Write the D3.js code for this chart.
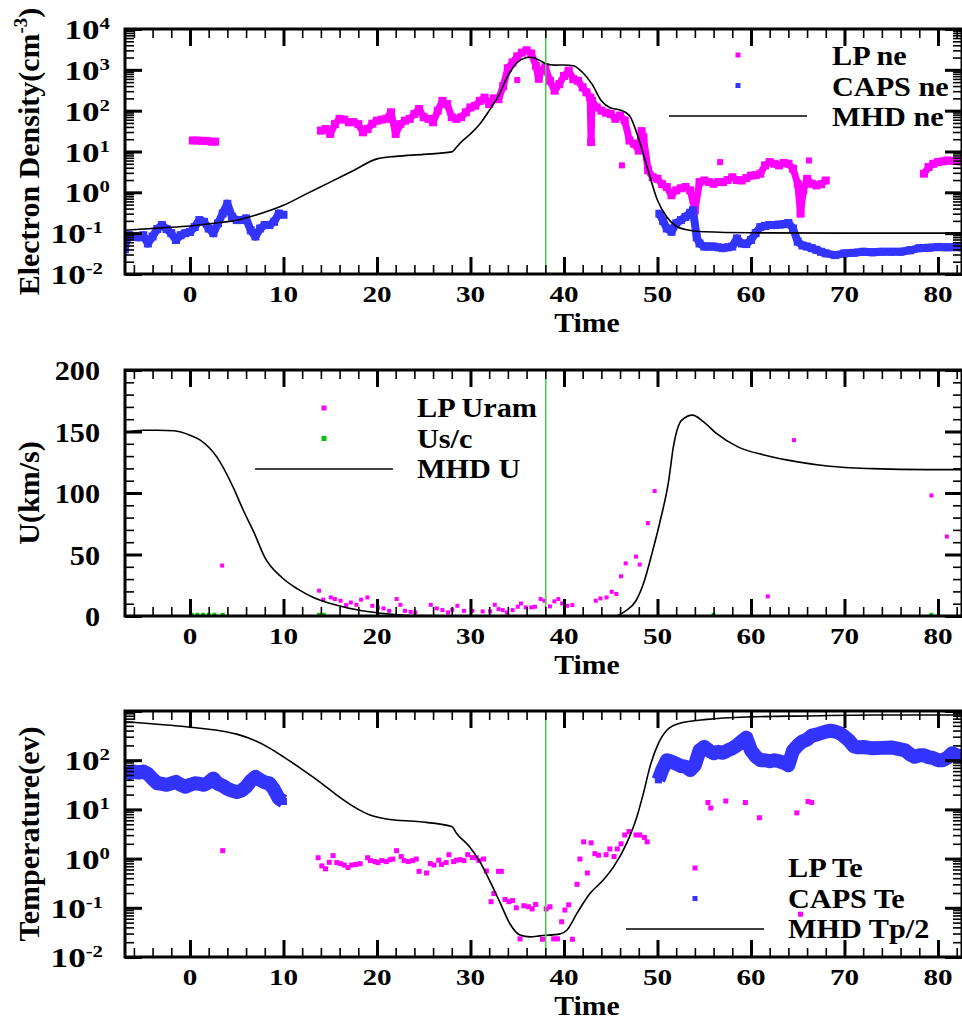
<!DOCTYPE html>
<html>
<head>
<meta charset="utf-8">
<script src="https://cdn.jsdelivr.net/npm/d3@7"></script>
<style>
  body { margin: 0; background: #fff; }
  text { font-family: "Liberation Serif", "Times New Roman", serif; font-weight: bold; fill: #000; }
</style>
</head>
<body>
<script>
// ---- data: [time, value] ----
const timeTicks = [0, 10, 20, 30, 40, 50, 60, 70, 80];
const neTickExp = [-2, -1, 0, 1, 2, 3, 4];
const uTicks = [0, 50, 100, 150, 200];
const teTickExp = [-2, -1, 0, 1, 2];
const shockTime = 38.05;

// top panel: electron density
const lpNe1 = [[0.3,18.6],[0.8,18.6],[1.3,18.2],[1.8,18.2],[2.3,17.4],[2.7,17.4]];
const lpNe2 = [[14,32.4],[14.5,35.5],[15,26.9],[15.5,46.8],[16,63.1],[16.5,60.3],[17,51.9],[17.5,52.5],[18,46.8],[18.5,29.5],
  [19,35.5],[19.5,47.9],[20,57],[20.5,60.3],[21,63.1],[21.5,91.2],[22,26.9],[22.5,46.8],[23,57],[23.5,63],[24,83.2],[24.5,110],
  [25,69.2],[25.5,63],[26,52],[26.5,100],[27,174],[27.5,145],[28,69],[28.5,63],[29,69],[29.5,91],[30,120],[30.5,132],[31,174],
  [31.5,209],[32,145],[32.5,200],[33,191],[33.5,398],[34,1096],[34.5,1514],[35,2138],[35.5,2630],[36,3020],[36.5,2512],[37,1259],
  [37.3,603],[37.6,1000],[38,1148],[38.5,537],[39,309],[39.5,447],[40,708],[40.5,955],[41,589],[41.5,537],[42,372],[42.4,282],
  [42.8,209],[42.9,17],[43,174],[43.5,120],[44,100],[44.5,89],[45,83],[45.5,63],[46,76],[46.5,57],[47,18.6],[47.5,15.5],[48,10.5],
  [48.3,31.6],[48.5,22.4],[49,3.47],[49.5,2.34],[50,2.14],[50.5,1.58],[51,1.35],[51.5,0.85],[52,1.12],[52.5,1.26],[53,1.35],
  [53.5,1.12],[54,0.363],[54.5,1.78],[55,1.95],[55.5,1.78],[56,1.62],[56.5,1.78],[57,1.78],[57.5,2.0],[58,2.34],[58.5,2.0],
  [59,1.95],[59.5,2.24],[60,2.57],[60.5,2.63],[61,2.86],[61.5,4.57],[62,5.5],[62.5,5.0],[63,4.57],[63.5,5.25],[64,5.0],[64.5,3.78],
  [65,1.62],[65.3,0.30],[65.6,1.12],[66,2.14],[66.5,1.62],[67,1.48],[67.5,1.58],[68,1.95]];
const lpNe3 = [[78.5,2.86],[79,4.17],[79.5,5.0],[80,5.5],[80.5,5.75],[81,6.03],[81.5,5.9],[82,5.9],[82.5,5.75]];
const lpNeDots = [[35,562],[46.2,4.57],[56.7,5.5],[66.2,6.03]];

const capsNe1 = [[-6.95,0.04],[-6.8,0.07],[-6.5,0.089],[-6,0.083],[-5.5,0.079],[-5,0.089],[-4.5,0.056],[-4,0.083],[-3.5,0.126],
  [-3,0.158],[-2.5,0.126],[-2,0.1],[-1.5,0.068],[-1,0.089],[-0.5,0.1],[0,0.107],[0.5,0.141],[1,0.209],[1.5,0.19],[2,0.13],
  [2.5,0.1],[3,0.174],[3.5,0.302],[4,0.525],[4.5,0.251],[5,0.209],[5.5,0.209],[6,0.229],[6.5,0.117],[7,0.083],[7.5,0.13],
  [8,0.158],[8.5,0.158],[9,0.19],[9.5,0.302],[10,0.282]];
const capsNe2 = [[50.2,0.3],[50.6,0.2],[51,0.13],[51.5,0.108],[52,0.174],[52.5,0.209],[53,0.251],[53.5,0.316],[53.8,0.363],[54.2,0.079],
  [54.5,0.056],[55,0.047],[55.5,0.047],[56,0.047],[56.5,0.045],[57,0.043],[57.5,0.045],[58,0.047],[58.5,0.074],[59,0.056],
  [59.5,0.054],[60,0.068],[60.5,0.1],[61,0.141],[61.5,0.151],[62,0.158],[62.5,0.158],[63,0.162],[63.5,0.166],[64,0.178],
  [64.5,0.13],[65,0.062],[65.5,0.05],[66,0.047],[66.5,0.043],[67,0.039],[67.5,0.035],[68,0.032],[69,0.029],[70,0.032],
  [71,0.033],[72,0.035],[73,0.034],[74,0.035],[75,0.035],[76,0.035],[77,0.038],[78,0.043],[79,0.044],[80,0.046],[81,0.045],
  [82,0.046],[82.6,0.045]];

const mhdNe = [[-6.95,0.118],[-3,0.135],[0,0.15],[3,0.18],[5,0.207],[7,0.275],[10,0.48],[12.5,0.93],[15,1.78],[17.5,3.44],
  [20,6.6],[22,7.6],[25,8.5],[28,9.8],[28.5,12.7],[29,17],[30,27],[31,47],[32,100],[33,232],[34,708],[35,1514],[36,1995],
  [36.4,2040],[37.5,1660],[38,1426],[39,1303],[40,1318],[41,1259],[42,859],[43,447],[44,174],[45,116],[46,104],[47,76],[48,20],
  [49,3.44],[50,0.64],[51,0.25],[52,0.148],[53,0.123],[55,0.108],[60,0.102],[70,0.1],[82.6,0.1]];

// middle panel: velocity
const lpU = [[3.44,41],[13.8,20.6],[14.25,13.3],[15.06,15.1],[15.5,13.8],[16.1,12.4],[16.7,8.9],[17.2,11],[17.8,9.1],[18.3,13.3],
  [18.97,15.1],[19.5,8.3],[20.1,7],[20.7,6.2],[21.3,4.2],[22.1,13.8],[22.5,9.1],[23,4.2],[23.6,3.4],[24.1,2.9],[25.75,9.1],
  [26.4,6.2],[27,4.8],[27.6,2.9],[28.05,5],[28.6,8.3],[29.3,4.2],[30.2,4.2],[31.3,3.7],[32.1,3.7],[32.6,9.1],[33,5.6],[33.45,4.8],
  [33.9,2.9],[34.5,4.8],[35.06,7.5],[35.4,10.2],[35.9,7],[36.5,7],[36.9,7.5],[37.5,13.8],[37.9,12.4],[38.5,7.8],[38.97,11.9],
  [39.4,13.8],[39.8,10.2],[40.35,8.3],[40.9,8.9],[43.4,12.4],[43.9,14.3],[44.55,15.1],[45.1,19.7],[45.6,17.9],[46.1,32.3],
  [46.6,42.8],[47.7,48.3],[48.1,41.8],[48.98,75.5],[49.7,101.6],[61.8,15.9],[64.6,143],[79.3,98],[80.95,64.6]];
const usc = [[0.2,1],[0.8,1],[1.4,1],[2.0,1],[2.6,1],[3.5,1],[13.8,1],[14.3,1],[56,1],[79.3,1]];
const mhdU = [[-6.95,149],[-5,151],[-3.5,151],[-1.7,150.6],[0,147],[1.1,143],[2.9,129],[4.6,105],[5.7,86],[6.9,67],[8,47.7],
  [9.8,31.5],[11.5,22],[13.2,15],[15.5,9.1],[18.4,4.2],[21.3,1.6],[24,0.3],[30,0],[45.4,0],[46.6,4.2],[47.7,12.4],[48.6,28.7],
  [49.4,50.5],[50.3,77.6],[51.2,110],[51.7,137.5],[52.6,159.3],[53.75,163.3],[54.9,158],[56.3,148.4],[58.6,137.5],[61.5,130.7],
  [65,125.3],[68.4,121.7],[73,119.8],[78.8,119],[82.6,119]];

// bottom panel: temperature
const lpTe = [[3.5,1.45],[13.7,1.04],[14.1,0.71],[14.5,0.62],[14.9,0.84],[15.3,1.15],[15.7,0.83],[16.1,0.79],[16.5,0.74],[16.9,0.66],
  [17.3,0.74],[17.75,0.76],[18.2,0.79],[19,1.04],[19.3,0.91],[19.8,0.87],[20.1,0.83],[20.5,0.91],[21,0.87],[21.4,0.95],[21.7,0.98],
  [22.1,1.45],[22.6,1.10],[22.9,0.91],[23.35,0.87],[23.8,0.91],[24.2,0.98],[24.5,0.55],[25.3,0.51],[25.7,0.79],[26.1,0.74],
  [26.6,0.93],[26.9,0.76],[27.4,0.83],[27.7,1.20],[28.2,0.87],[28.5,0.93],[28.9,0.95],[29.3,0.91],[29.7,1.20],[30.2,1.05],
  [30.6,1.04],[30.9,0.91],[31.4,0.98],[31.7,0.56],[32.2,0.133],[32.5,0.195],[33,0.55],[33.3,0.55],[33.7,0.148],[34.1,0.133],
  [34.5,0.141],[34.9,0.1],[35.3,0.0234],[35.7,0.11],[36.2,0.105],[36.6,0.095],[36.97,0.117],[37.7,0.0229],[38.1,0.095],
  [38.5,0.105],[38.9,0.0234],[39.3,0.0234],[39.75,0.052],[40.1,0.09],[40.5,0.115],[40.9,0.0229],[41.4,0.30],[41.7,0.98],
  [42.1,2.19],[42.5,0.51],[42.9,2.09],[43.3,1.26],[43.7,1.17],[44.5,1.20],[44.9,1.57],[45.35,1.10],[45.7,1.57],[46.1,2.0],
  [46.5,3.02],[46.95,3.55],[47.7,3.02],[48.1,3.02],[48.6,2.69],[48.9,2.19],[55.4,13.8],[55.7,10.7],[57.3,14.8],[59.4,13.8],
  [60.9,6.76],[64.9,8.5],[65.3,0.074],[66.1,14.5],[66.5,13.8]];
const capsTe1 = [[-6.95,50],[-6.5,55],[-6,59],[-5.5,56],[-5,59],[-4.5,52.5],[-4,41.7],[-3.5,33.9],[-3,33.1],[-2.5,31.6],[-2,33.9],
  [-1.5,36.3],[-1,31.6],[-0.5,28.8],[0,31.6],[0.5,33.9],[1,33.1],[1.5,31.6],[2,35.5],[2.5,42.7],[3,33.1],[3.5,30.2],[4,26.3],
  [4.5,24],[5,22.4],[5.5,24],[6,28.8],[6.5,38],[7,45.7],[7.5,39.8],[8,35.5],[8.5,33.9],[9,25.1],[9.5,16.6],[10,14.5]];
const capsTe2 = [[50.1,39.8],[50.5,63],[51,100],[51.5,93],[52,85],[52.5,76],[53,74],[53.5,63],[54,79],[54.5,158],[55,186],
  [55.5,158],[56,138],[56.5,148],[57,141],[57.5,158],[58,174],[58.5,200],[59,240],[59.5,288],[60,158],[60.5,120],[61,100],
  [61.5,100],[62,95],[62.5,100],[63,95],[63.5,89],[64,79],[64.5,158],[65,200],[65.5,240],[66,263],[66.5,316],[67,331],
  [67.5,355],[68,380],[68.5,398],[69,380],[69.5,355],[70,302],[70.5,251],[71,191],[71.5,182],[72,186],[73,174],[74,178],
  [75,182],[76,166],[76.5,158],[77,132],[77.5,117],[78,126],[78.5,126],[79,115],[79.5,110],[80,100],[80.5,100],[81,112],
  [81.5,138],[82,126],[82.6,120]];
const mhdTe = [[-6.95,603],[0,468],[3.2,398],[5,339],[6.8,257],[8.56,174],[10,117],[12.1,63],[13.9,36],[15.7,19.5],[17.5,11.4],
  [19.25,7.7],[21,6.4],[24.6,5.6],[28,4.5],[28.5,3.27],[29.9,1.74],[31,0.865],[32.1,0.34],[33.2,0.123],[34.2,0.048],[35.3,0.028],
  [36.4,0.0257],[37.4,0.0269],[39.6,0.0295],[40.3,0.035],[41.4,0.078],[42.8,0.197],[44.2,0.367],[45.3,0.68],[46.7,2.04],
  [47.8,7.1],[48.5,21.4],[49.2,74],[50.1,219],[51,407],[52.4,562],[55.3,676],[59.9,759],[66,794],[73,832],[82.6,832]];

// ---- layout ----
const W = 962, H = 1021;
const left = 125, right = 962;
const magenta = '#ff00ff', blue = '#3434ff', green = '#00c800';

const x = d3.scaleLinear().domain([-6.95, 82.57]).range([left, right]);

const svg = d3.select('body').append('svg')
    .attr('width', W)
    .attr('height', H);

const panels = [
  { top: 29, bottom: 274, log: true, domain: [1e-2, 1e4] },
  { top: 370, bottom: 616, log: false, domain: [0, 200] },
  { top: 711, bottom: 957, log: true, domain: [1e-2, 1e3] }
];
panels.forEach((p, i) => {
  p.y = (p.log ? d3.scaleLog() : d3.scaleLinear()).domain(p.domain).range([p.bottom, p.top]);
  p.g = svg.append('g');
  svg.append('clipPath').attr('id', 'clip' + i)
    .append('rect').attr('x', left).attr('y', p.top).attr('width', right - left).attr('height', p.bottom - p.top);
  p.data = p.g.append('g').attr('clip-path', `url(#clip${i})`);
});

const line = p => d3.line().x(d => x(d[0])).y(d => p.y(d[1]));
const smooth = p => d3.line().curve(d3.curveMonotoneX).x(d => x(d[0])).y(d => p.y(d[1]));

function band(p, pts, color, w) {
  p.data.append('path').datum(pts)
    .attr('d', line(p))
    .attr('fill', 'none')
    .attr('stroke', color)
    .attr('stroke-width', w)
    .attr('stroke-linejoin', 'round');
}
function squares(p, pts, color, s) {
  p.data.append('g').selectAll('rect').data(pts).join('rect')
    .attr('x', d => x(d[0]) - s / 2)
    .attr('y', d => p.y(d[1]) - s / 2)
    .attr('width', s).attr('height', s)
    .attr('fill', color);
}
function model(p, pts) {
  p.data.append('path').datum(pts)
    .attr('d', smooth(p))
    .attr('fill', 'none')
    .attr('stroke', '#000')
    .attr('stroke-width', 1.6);
}

// top panel
const pN = panels[0];
[lpNe1, lpNe2, lpNe3].forEach(s => { band(pN, s, magenta, 7); squares(pN, s, magenta, 8); });
squares(pN, lpNeDots, magenta, 6);
[capsNe1, capsNe2].forEach(s => { band(pN, s, blue, 8); squares(pN, s, blue, 8); });
model(pN, mhdNe);

// middle panel
const pU = panels[1];
squares(pU, usc, green, 4);
squares(pU, lpU, magenta, 4);
model(pU, mhdU);

// bottom panel
const pT = panels[2];
[capsTe1, capsTe2].forEach(s => band(pT, s, blue, 14));
[capsTe1, capsTe2].forEach(s => squares(pT, s, blue, 7));
squares(pT, lpTe, magenta, 5);
model(pT, mhdTe);

// shock crossing
panels.forEach(p => {
  p.g.append('line')
    .attr('x1', x(shockTime)).attr('x2', x(shockTime))
    .attr('y1', p.top).attr('y2', p.bottom)
    .attr('stroke', '#3fcf3f').attr('stroke-width', 1.5);
});

// ticks and frames
const isDecade = v => Math.abs(Math.log10(v) - Math.round(Math.log10(v))) < 1e-6;
const xMinor = d3.range(-6, 83, 2).filter(v => v % 10 !== 0);

function tickAxis(p, axis, scale, values, size, width, tx, ty) {
  const a = p.g.append('g')
    .attr('transform', `translate(${tx},${ty})`)
    .call(axis(scale).tickValues(values).tickSize(-size).tickSizeOuter(0).tickFormat(''));
  a.select('.domain').remove();
  a.selectAll('line').attr('stroke', '#000').attr('stroke-width', width);
}

panels.forEach(p => {
  tickAxis(p, d3.axisBottom, x, xMinor, 9, 1.6, 0, p.bottom);
  tickAxis(p, d3.axisBottom, x, timeTicks, 17, 3, 0, p.bottom);
  tickAxis(p, d3.axisTop, x, xMinor, 9, 1.6, 0, p.top);
  tickAxis(p, d3.axisTop, x, timeTicks, 17, 3, 0, p.top);

  let yMajor, yMinor;
  if (p.log) {
    const all = p.y.ticks();
    yMajor = all.filter(isDecade);
    yMinor = all.filter(v => !isDecade(v));
  } else {
    yMajor = uTicks;
    yMinor = d3.range(10, 200, 10).filter(v => v % 50 !== 0);
  }
  [[d3.axisLeft, left], [d3.axisRight, right]].forEach(([ax, tx]) => {
    tickAxis(p, ax, p.y, yMinor, 9, 1.6, tx, 0);
    tickAxis(p, ax, p.y, yMajor, 17, 3, tx, 0);
  });

  p.g.append('rect')
    .attr('x', left).attr('y', p.top)
    .attr('width', right - left).attr('height', p.bottom - p.top)
    .attr('fill', 'none').attr('stroke', '#000').attr('stroke-width', 3);

  // x tick labels
  p.g.selectAll('text.xt').data(timeTicks).join('text')
    .attr('class', 'xt')
    .attr('transform', d => `translate(${x(d)},${p.bottom + 28}) scale(1.27,1)`)
    .attr('text-anchor', 'middle')
    .style('font-size', '23px')
    .text(d => d);

  p.g.append('text')
    .attr('transform', `translate(587,${p.bottom + 58}) scale(1.1,1)`)
    .attr('text-anchor', 'middle')
    .style('font-size', '27px')
    .text('Time');
});

// y tick labels
function powerLabels(p, exps) {
  exps.forEach(e => {
    const t = p.g.append('text')
      .attr('transform', `translate(${e < 0 ? 103 : 110},${p.y(Math.pow(10, e)) + 10}) scale(1.3,1)`)
      .attr('text-anchor', 'end')
      .style('font-size', '27px');
    t.append('tspan').text('10');
    t.append('tspan').attr('dy', -10).style('font-size', '16px').text(e);
  });
}
powerLabels(pN, neTickExp);
powerLabels(pT, teTickExp);
pU.g.selectAll('text.yt').data(uTicks).join('text')
  .attr('class', 'yt')
  .attr('transform', d => `translate(100,${pU.y(d) + 10}) scale(1.12,1)`)
  .attr('text-anchor', 'end')
  .style('font-size', '27px')
  .text(d => d);

// y axis titles
function yTitle(p) {
  return p.g.append('text')
    .attr('transform', `translate(39,${(p.top + p.bottom) / 2}) rotate(-90)`)
    .attr('text-anchor', 'middle')
    .style('font-size', '30px');
}
const tN = yTitle(pN);
tN.append('tspan').text('Electron Density(cm');
tN.append('tspan').attr('dy', -12).style('font-size', '19px').text('-3');
tN.append('tspan').attr('dy', 12).text(')');
yTitle(pU).text('U(km/s)');
yTitle(pT).text('Temperature(ev)');

// legends
function legend(p, mx, my0, lx0, lx1, tx, ty0, items) {
  items.forEach((it, i) => {
    const yy = my0 + i * 30.5;
    if (it.type === 'line') {
      p.g.append('line').attr('x1', lx0).attr('x2', lx1).attr('y1', yy).attr('y2', yy)
        .attr('stroke', '#000').attr('stroke-width', 1.6);
    } else {
      p.g.append('rect').attr('x', mx - 2.5).attr('y', yy - 2.5).attr('width', 5).attr('height', 5)
        .attr('fill', it.color);
    }
    p.g.append('text')
      .attr('transform', `translate(${tx},${ty0 + i * 30.5}) scale(1.08,1)`)
      .style('font-size', '28px').text(it.label);
  });
}
legend(pN, 738, 55, 669, 807, 832, 65, [
  { label: 'LP ne', color: magenta },
  { label: 'CAPS ne', color: blue },
  { label: 'MHD ne', type: 'line' }
]);
legend(pU, 324, 408, 255, 393, 417, 417, [
  { label: 'LP Uram', color: magenta },
  { label: 'Us/c', color: green },
  { label: 'MHD U', type: 'line' }
]);
legend(pT, 695, 868, 626, 764, 788, 877, [
  { label: 'LP Te', color: magenta },
  { label: 'CAPS Te', color: blue },
  { label: 'MHD Tp/2', type: 'line' }
]);
</script>
</body>
</html>
